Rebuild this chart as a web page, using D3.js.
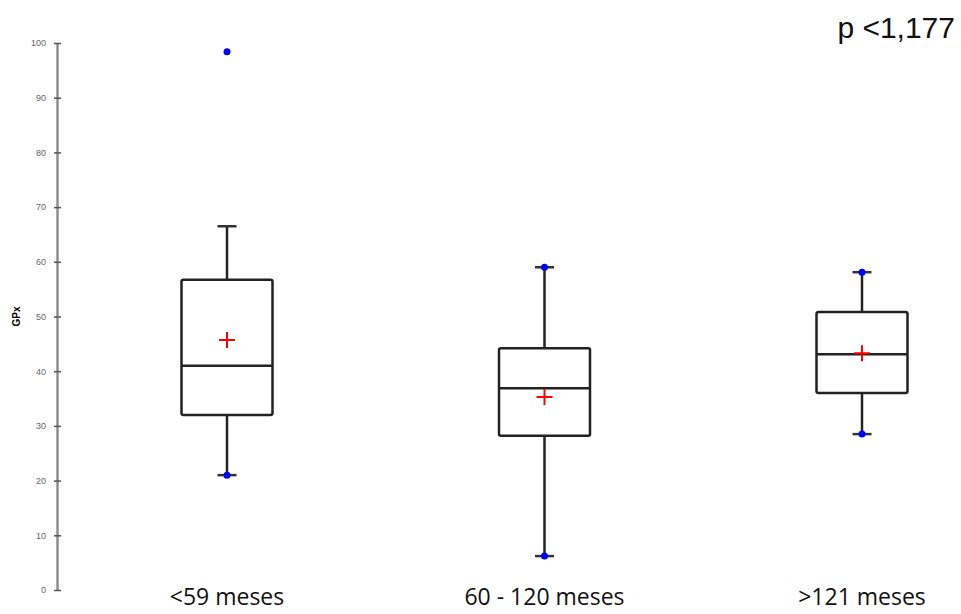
<!DOCTYPE html>
<html>
<head>
<meta charset="utf-8">
<script src="https://cdn.jsdelivr.net/npm/d3@7"></script>
<style>
  body { margin: 0; background: #fff; }
  svg { display: block; }
</style>
</head>
<body>
<svg id="chart" width="961" height="614"></svg>
<script>
const categories = ['<59 meses', '60 - 120 meses', '>121 meses'];
const minValues = [21, 6.2, 28.5];
const whiskerLow = [21, 6.2, 28.5];
const q1 = [32, 28.2, 36];
const medians = [41, 36.9, 43.1];
const q3 = [56.7, 44.2, 50.8];
const whiskerHigh = [66.5, 59, 58.1];
const maxValues = [98.4, 59, 58.1];
const means = [45.7, 35.3, 43.3];
const yTicks = [0, 10, 20, 30, 40, 50, 60, 70, 80, 90, 100];
const yTitle = 'GPx';
const pText = 'p <1,177';

const svg = d3.select('#chart');

const y = d3.scaleLinear().domain([0, 100]).range([590, 43]);
const x = d3.scalePoint().domain(categories).range([227, 862]);

const boxW = 91;
const capW = 19;

// y axis
const yAxis = svg.append('g')
  .attr('transform', 'translate(57,0)')
  .call(d3.axisLeft(y).tickValues(yTicks).tickSize(0).tickPadding(11));
yAxis.select('.domain').attr('stroke', '#8a8a8a').attr('stroke-width', 2.4);
yAxis.selectAll('.tick text')
  .attr('fill', '#666')
  .style('font-family', 'Liberation Sans, Arial, sans-serif')
  .style('font-size', '9px');
yAxis.selectAll('.tick').append('line')
  .attr('x1', -3).attr('x2', 4)
  .attr('stroke', '#555').attr('stroke-width', 1.5);

svg.append('text')
  .attr('transform', `translate(20,${y(50)}) rotate(-90)`)
  .attr('text-anchor', 'middle')
  .style('font-family', 'Liberation Sans, Arial, sans-serif')
  .style('font-size', '10px')
  .style('font-weight', 'bold')
  .text(yTitle);

const boxes = svg.selectAll('g.box').data(categories).join('g').attr('class', 'box');

boxes.each((d, i, n) => {
  const g = d3.select(n[i]);
  const cx = x(d);

  // whiskers
  g.append('line')
    .attr('x1', cx).attr('x2', cx)
    .attr('y1', y(whiskerHigh[i])).attr('y2', y(q3[i]))
    .attr('stroke', '#222').attr('stroke-width', 2.5);
  g.append('line')
    .attr('x1', cx).attr('x2', cx)
    .attr('y1', y(q1[i])).attr('y2', y(whiskerLow[i]))
    .attr('stroke', '#222').attr('stroke-width', 2.5);
  [whiskerHigh[i], whiskerLow[i]].forEach((v) => {
    g.append('line')
      .attr('x1', cx - capW / 2).attr('x2', cx + capW / 2)
      .attr('y1', y(v)).attr('y2', y(v))
      .attr('stroke', '#333').attr('stroke-width', 2.5);
  });

  // box
  g.append('rect')
    .attr('x', cx - boxW / 2)
    .attr('y', y(q3[i]))
    .attr('width', boxW)
    .attr('height', y(q1[i]) - y(q3[i]))
    .attr('rx', 2)
    .attr('fill', 'none')
    .attr('stroke', '#222')
    .attr('stroke-width', 2.5);
  g.append('line')
    .attr('x1', cx - boxW / 2).attr('x2', cx + boxW / 2)
    .attr('y1', y(medians[i])).attr('y2', y(medians[i]))
    .attr('stroke', '#222').attr('stroke-width', 2.5);

  // minimum and maximum points
  g.selectAll('circle')
    .data([minValues[i], maxValues[i]])
    .join('circle')
    .attr('cx', cx)
    .attr('cy', (v) => y(v))
    .attr('r', 3.5)
    .attr('fill', '#0000ff');

  // mean
  const my = y(means[i]);
  g.append('path')
    .attr('d', `M${cx - 8},${my}H${cx + 8}M${cx},${my - 8}V${my + 8}`)
    .attr('stroke', '#ff0000')
    .attr('stroke-width', 2);
});

svg.selectAll('text.cat').data(categories).join('text')
  .attr('class', 'cat')
  .attr('x', (d) => x(d))
  .attr('y', 605)
  .attr('text-anchor', 'middle')
  .style('font-family', 'Open Sans, sans-serif')
  .style('font-size', '23px')
  .style('fill', '#111')
  .text((d) => d);

svg.append('text')
  .attr('x', 955)
  .attr('y', 38)
  .attr('text-anchor', 'end')
  .style('font-family', 'Liberation Sans, Arial, sans-serif')
  .style('font-size', '30px')
  .style('fill', '#111')
  .text(pText);
</script>
</body>
</html>
